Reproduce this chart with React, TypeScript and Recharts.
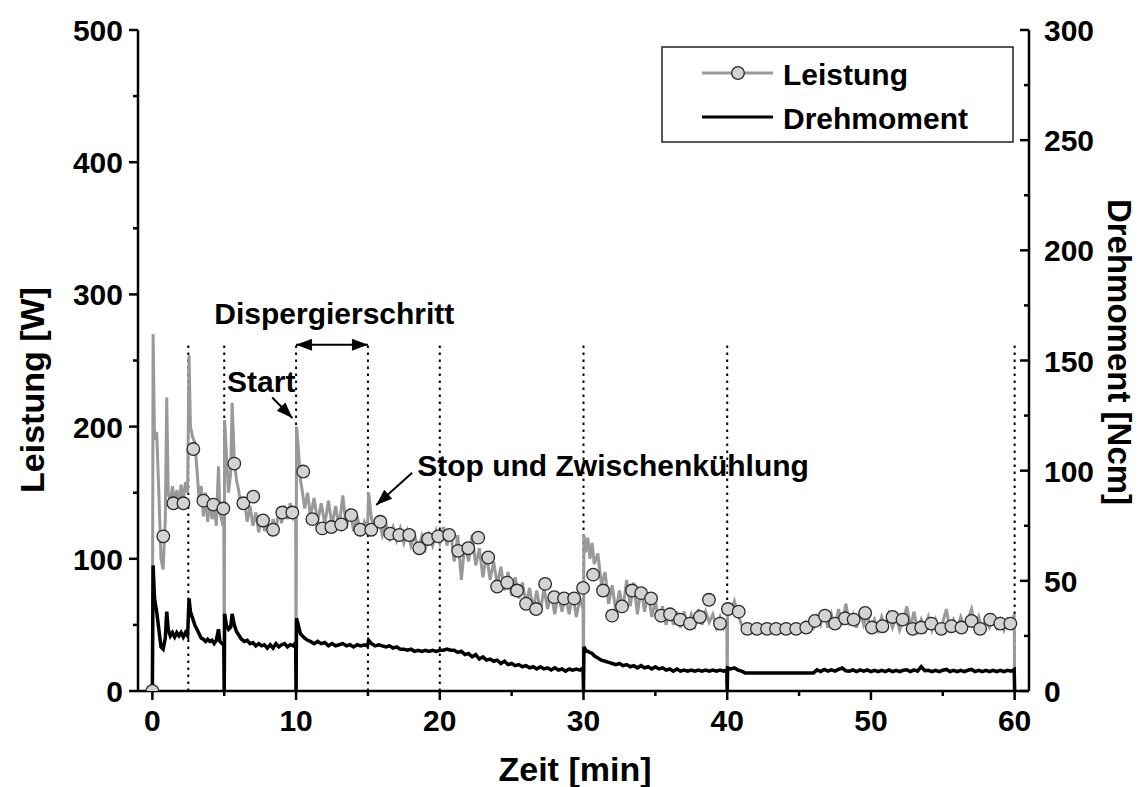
import { ComposedChart, Line, Scatter, XAxis, YAxis, ReferenceLine, ReferenceDot } from 'recharts'

// raw log, time in minutes (stops at 5, 10, 30, 40 and 60 min drop to zero)
const timeMin = [
  0, 0.05, 0.15, 0.3, 0.45, 0.6, 0.75, 0.9, 1.0, 1.1, 1.25, 1.4, 1.55, 1.7, 1.85, 2.0, 2.15, 2.3, 2.45, 2.55,
  2.65, 2.8, 2.95, 3.1, 3.25, 3.4, 3.55, 3.7, 3.85, 4.0, 4.15, 4.3, 4.45, 4.6, 4.7, 4.85, 4.97, 5.0,
  5.03, 5.15, 5.3, 5.45, 5.55, 5.7, 5.85, 6.0, 6.2, 6.4, 6.6, 6.8, 7.0, 7.2, 7.4, 7.6, 7.8, 8.0, 8.2, 8.4,
  8.6, 8.8, 9.0, 9.2, 9.4, 9.6, 9.8, 9.97, 10.0,
  10.03, 10.15, 10.3, 10.45, 10.6, 10.8, 11.0,
  11.25, 11.5, 11.75, 12.0, 12.25, 12.5, 12.75, 13.0, 13.25, 13.5, 13.75, 14.0, 14.25, 14.5, 14.75,
  14.97, 15.05,
  15.25, 15.5, 15.75, 16.0, 16.25, 16.5, 16.75, 17.0, 17.25, 17.5, 17.75, 18.0, 18.25, 18.5, 18.75,
  19.0, 19.25, 19.5, 19.75, 20.0, 20.25, 20.5, 20.75, 21.0, 21.25, 21.5, 21.75, 22.0, 22.25, 22.5,
  22.75, 23.0, 23.25, 23.5, 23.75, 24.0, 24.25, 24.5, 24.75, 25.0, 25.25, 25.5, 25.75, 26.0, 26.25,
  26.5, 26.75, 27.0, 27.25, 27.5, 27.75, 28.0, 28.25, 28.5, 28.75, 29.0, 29.25, 29.5, 29.75,
  29.97, 30.0,
  30.03, 30.15, 30.3, 30.45, 30.6, 30.75,
  31.0, 31.25, 31.5, 31.75, 32.0, 32.25, 32.5, 32.75, 33.0, 33.25, 33.5, 33.75, 34.0, 34.25, 34.5,
  34.75, 35.0, 35.25, 35.5, 35.75, 36.0, 36.25, 36.5, 36.75, 37.0, 37.25, 37.5, 37.75, 38.0, 38.25,
  38.5, 38.75, 39.0, 39.25, 39.5, 39.75,
  39.97, 40.0,
  40.03, 40.25, 40.5, 40.75, 41.0, 41.25, 46.0,
  46.25, 46.5, 46.75, 47.0, 47.25, 47.5, 47.75, 48.0, 48.25, 48.5, 48.75, 49.0, 49.25, 49.5, 49.75,
  50.0, 50.25, 50.5, 50.75, 51.0, 51.25, 51.5, 51.75,
  52.0, 52.25, 52.5, 52.75, 53.0, 53.25, 53.5, 53.75,
  54.0, 54.25, 54.5, 54.75, 55.0, 55.25, 55.5, 55.75,
  56.0, 56.25, 56.5, 56.75, 57.0, 57.25, 57.5, 57.75,
  58.0, 58.25, 58.5, 58.75, 59.0, 59.25, 59.5, 59.75,
  59.97, 60.0,
]

// Leistung [W]
const leistungW = [
  0, 270, 190, 196, 150, 100, 92, 130, 222, 150, 143, 155, 140, 152, 141, 156, 143, 158, 150, 254,
  200, 192, 188, 168, 145, 155, 132, 150, 128, 145, 130, 140, 125, 170, 135, 128, 132, 0,
  205, 180, 150, 165, 218, 175, 160, 152, 138, 145, 128, 140, 125, 135, 120, 132, 121, 128, 118, 130,
  122, 136, 127, 140, 130, 142, 132, 138, 0,
  200, 185, 160, 150, 138, 150, 132,
  146, 128, 142, 126, 144, 125, 140, 124, 148, 123, 138, 121, 132, 120, 128,
  122, 150,
  130, 122, 130, 118, 127, 116, 124, 114, 123, 112, 121, 110, 118, 106, 117,
  108, 118, 110, 121, 112, 124, 110, 122, 98, 118, 84, 112, 98, 118, 95,
  108, 86, 104, 84, 98, 80, 94, 76, 90, 72, 86, 70, 82, 66, 78,
  62, 76, 60, 78, 62, 74, 58, 74, 60, 72, 58, 74, 56, 70,
  62, 0,
  118, 105, 116, 100, 112, 96,
  104, 80, 90, 66, 80, 60, 76, 62, 84, 64, 82, 58, 78, 60, 74,
  56, 68, 52, 64, 50, 62, 50, 60, 48, 60, 48, 58, 50, 62, 50,
  60, 52, 58, 48, 56, 48,
  54, 0,
  66, 60, 68, 58, 50, 47, 47,
  56, 50, 60, 48, 58, 48, 62, 50, 66, 52, 58, 48, 60, 50, 58,
  46, 54, 46, 56, 48, 58, 48, 56,
  46, 54, 64, 48, 60, 46, 54, 46,
  56, 46, 54, 46, 52, 62, 46, 54,
  48, 56, 48, 54, 62, 48, 56, 46,
  54, 48, 56, 48, 54, 46, 54, 50,
  58, 0,
]

// Drehmoment [Ncm]
const drehmomentNcm = [
  0, 57, 42, 36, 28, 20, 19, 24, 36, 28, 25, 26.5, 24.5, 26.5, 25, 26.5, 24.5, 26.5, 25, 42,
  36, 33, 30, 28, 26, 24, 23.5, 22.5, 23.5, 22.5, 23, 21.5, 23, 28, 22.5, 21.5, 22, 0,
  35, 30, 28, 29, 35, 30, 27, 25.5, 23.5, 22.5, 23, 21.5, 22, 20.5, 21.5, 20.5, 21, 19.5, 21, 19.5,
  21.5, 20, 21, 21.5, 20, 21, 20.5, 22, 0,
  33, 30, 26, 25, 24, 23, 22.5,
  21.5, 22.5, 21.5, 22, 20.5, 21.5, 20.5, 21, 21.5, 20.5, 21, 20, 21, 20.5, 21,
  20.5, 23,
  21.5, 20.5, 21, 20.5, 20, 20.5, 19.5, 20, 19, 19, 18.5, 19, 18, 18.5, 18,
  18.5, 18, 18.5, 18, 18.5, 18.5, 19, 18.5, 18.5, 17.5, 18, 16.5, 17, 15.5, 16.5,
  14.5, 15.5, 14, 14.5, 13.5, 14, 12.5, 13.5, 12, 12.5, 11.5, 12, 11, 11.5, 10.5,
  11, 10, 11, 10, 10.5, 9.5, 10.5, 9.5, 10, 9, 10, 9.5, 10, 9.5,
  10.5, 0,
  20, 18.5, 18, 17.5, 17, 16,
  15, 14, 13.5, 13, 12.5, 12, 12.5, 11.5, 12, 11, 11.5, 10.5, 11.5, 10.5, 11,
  10, 11, 10, 10.5, 9.5, 10, 9, 10, 9, 9.5, 9, 9.5, 9, 9.5, 9,
  9.5, 9, 9.5, 9, 9.5, 9,
  9.5, 0,
  10.5, 10, 10.5, 9.5, 9, 8.2, 8.2,
  9.6, 8.8, 9.8, 9.0, 9.6, 9.0, 9.8, 10.4, 9.2, 9.0, 9.6, 8.8, 9.6, 9.0, 9.6,
  8.8, 9.4, 8.8, 9.4, 8.8, 9.6, 8.8, 9.4,
  8.8, 9.4, 9.6, 8.8, 9.6, 9.0, 11.0, 9.2,
  9.4, 8.8, 9.4, 8.8, 9.4, 9.8, 8.8, 9.4,
  8.8, 9.4, 8.8, 9.4, 9.8, 8.8, 9.4, 8.8,
  9.4, 8.8, 9.4, 8.8, 9.4, 8.8, 9.4, 9.0,
  9.8, 0,
]

// averaged Leistung, one symbol per sample
const markerTime = [
  0, 0.76, 1.46, 2.16, 2.85, 3.55, 4.24, 4.94, 5.7, 6.33,
  7.02, 7.7, 8.4, 9.04, 9.74, 10.5, 11.13, 11.82, 12.45, 13.14,
  13.84, 14.46, 15.23, 15.86, 16.55, 17.18, 17.87, 18.57, 19.19, 19.89,
  20.65, 21.28, 21.98, 22.67, 23.37, 23.99, 24.69, 25.38, 26.0, 26.7,
  27.33, 27.96, 28.65, 29.35, 29.97, 30.67, 31.36, 31.99, 32.68, 33.38,
  34.01, 34.7, 35.4, 36.02, 36.72, 37.41, 38.1, 38.73, 39.5, 40.05,
  40.8, 41.4, 42.07, 42.77, 43.4, 44.1, 44.8, 45.5, 46.1, 46.8,
  47.5, 48.2, 48.8, 49.6, 50.07, 50.8, 51.5, 52.2, 52.9, 53.5,
  54.2, 54.9, 55.6, 56.3, 57.0, 57.6, 58.3, 59.0, 59.7,
]
const markerW = [
  0, 117, 142, 142, 183, 144, 141, 138, 172, 142,
  147, 129, 122, 135, 135, 166, 130, 123, 124, 126,
  133, 122, 122, 128, 119, 118, 118, 108, 115, 117,
  118, 106, 108, 116, 101, 79, 82, 76, 66, 62,
  81, 71, 70, 70, 78, 88, 76, 57, 64, 76,
  74, 70, 57, 58, 54, 51, 56, 69, 51, 62,
  60, 47, 47, 47, 47, 47, 47, 48, 53, 57,
  51, 55, 54, 59, 48, 49, 56, 54, 47, 48,
  51, 47, 49, 48, 53, 47, 54, 51, 51,
]

// step boundaries (dotted guides) and their height on the W scale
const guideTimes = [2.5, 5, 10, 15, 20, 30, 40, 60]
const guideTop = 262

const timeTicks = [0, 5, 10, 15, 20, 25, 30, 35, 40, 45, 50, 55, 60]
const leistungTicks = [0, 50, 100, 150, 200, 250, 300, 350, 400, 450, 500]
const drehmomentTicks = [0, 25, 50, 75, 100, 125, 150, 175, 200, 225, 250, 275, 300]

const rows = timeMin.map((t, i) => ({ t, leistung: leistungW[i], drehmoment: drehmomentNcm[i] }))
const markers = markerTime.map((t, i) => ({ t, leistung: markerW[i] }))

const FONT = '"Liberation Sans", Arial, Helvetica, sans-serif'
const GRAY = '#999999'
const MARKER_FILL = '#d3d3d3'
const AXIS = { stroke: '#000', strokeWidth: 2.5 }

const textStyle = { fontFamily: FONT, fontWeight: 700, fill: '#000' }

function BottomTick({ x, y, payload }: any) {
  const major = payload.value % 10 === 0
  return (
    <g>
      <line x1={x} x2={x} y1={y} y2={y + (major ? 9 : 5)} stroke="#000" strokeWidth={2.5} />
      {major && (
        <text x={x} y={y + 40} textAnchor="middle" fontSize={30} style={textStyle}>
          {payload.value}
        </text>
      )}
    </g>
  )
}

function TopTick({ x, y, payload }: any) {
  const major = payload.value % 10 === 0
  return <line x1={x} x2={x} y1={y} y2={y + (major ? 10 : 5)} stroke="#000" strokeWidth={2.5} />
}

function LeftTick({ x, y, payload }: any) {
  const major = payload.value % 100 === 0
  return (
    <g>
      <line x1={x - (major ? 9 : 5)} x2={x} y1={y} y2={y} stroke="#000" strokeWidth={2.5} />
      {major && (
        <text x={x - 15} y={y + 11} textAnchor="end" fontSize={30} style={textStyle}>
          {payload.value}
        </text>
      )}
    </g>
  )
}

function RightTick({ x, y, payload }: any) {
  const major = payload.value % 50 === 0
  return (
    <g>
      <line x1={x - (major ? 9 : 5)} x2={x} y1={y} y2={y} stroke="#000" strokeWidth={2.5} />
      {major && (
        <text x={x + 15} y={y + 11} textAnchor="start" fontSize={30} style={textStyle}>
          {payload.value}
        </text>
      )}
    </g>
  )
}

function MarkerDot({ cx, cy }: any) {
  return <circle cx={cx} cy={cy} r={6.3} fill={MARKER_FILL} stroke="#2a2a2a" strokeWidth={1.3} />
}

function headPoints(x: number, y: number, a: number) {
  const len = 16
  const half = 6
  const bx = x - len * Math.cos(a)
  const by = y - len * Math.sin(a)
  return `${x},${y} ${bx + half * Math.sin(a)},${by - half * Math.cos(a)} ${bx - half * Math.sin(a)},${by + half * Math.cos(a)}`
}

function Arrow({ x1, y1, x2, y2, both }: any) {
  const a = Math.atan2(y2 - y1, x2 - x1)
  return (
    <g>
      <line x1={x1} y1={y1} x2={x2} y2={y2} stroke="#000" strokeWidth={2} />
      <polygon points={headPoints(x2, y2, a)} fill="#000" />
      {both && <polygon points={headPoints(x1, y1, a + Math.PI)} fill="#000" />}
    </g>
  )
}

function note(text: string, anchor: 'start' | 'middle') {
  return ({ cx, cy }: any) => (
    <text x={cx} y={cy} textAnchor={anchor} fontSize={30} style={textStyle}>
      {text}
    </text>
  )
}

export default function App() {
  return (
    <div style={{ position: 'absolute', left: 0, top: 0, width: 1143, height: 787, background: '#fff' }}>
      <ComposedChart width={1143} height={787} data={rows} margin={{ top: 30, right: 0, bottom: 0, left: 0 }}>
        <XAxis
          xAxisId="t"
          dataKey="t"
          type="number"
          domain={[-1, 61]}
          allowDataOverflow
          ticks={timeTicks}
          interval={0}
          tickSize={0}
          tickMargin={0}
          tickLine={false}
          axisLine={AXIS}
          tick={<BottomTick />}
          height={96}
        />
        <XAxis
          xAxisId="top"
          orientation="top"
          type="number"
          domain={[-1, 61]}
          allowDataOverflow
          ticks={timeTicks}
          interval={0}
          tickSize={0}
          tickMargin={0}
          tickLine={false}
          axisLine={AXIS}
          tick={<TopTick />}
          height={0}
        />
        <YAxis
          yAxisId="w"
          type="number"
          domain={[0, 500]}
          allowDataOverflow
          ticks={leistungTicks}
          interval={0}
          tickSize={0}
          tickMargin={0}
          tickLine={false}
          axisLine={AXIS}
          tick={<LeftTick />}
          width={138}
        />
        <YAxis
          yAxisId="ncm"
          orientation="right"
          type="number"
          domain={[0, 300]}
          allowDataOverflow
          ticks={drehmomentTicks}
          interval={0}
          tickSize={0}
          tickMargin={0}
          tickLine={false}
          axisLine={AXIS}
          tick={<RightTick />}
          width={114}
        />

        {guideTimes.map((g) => (
          <ReferenceLine
            key={g}
            xAxisId="t"
            yAxisId="w"
            segment={[{ x: g, y: 0 }, { x: g, y: guideTop }]}
            stroke="#000"
            strokeWidth={2}
            strokeDasharray="2.5 4.5"
          />
        ))}

        <Line
          xAxisId="t"
          yAxisId="w"
          dataKey="leistung"
          type="linear"
          stroke={GRAY}
          strokeWidth={3}
          dot={false}
          isAnimationActive={false}
        />
        <Line
          xAxisId="t"
          yAxisId="ncm"
          dataKey="drehmoment"
          type="linear"
          stroke="#000"
          strokeWidth={3.5}
          dot={false}
          isAnimationActive={false}
        />
        <Scatter
          xAxisId="t"
          yAxisId="w"
          data={markers}
          dataKey="leistung"
          shape={<MarkerDot />}
          isAnimationActive={false}
        />

        {/* Dispergierschritt bracket between 10 and 15 min */}
        <ReferenceLine
          xAxisId="t"
          yAxisId="w"
          segment={[{ x: 10, y: 262 }, { x: 15, y: 262 }]}
          shape={(p: any) => <Arrow {...p} both />}
        />
        <ReferenceLine
          xAxisId="t"
          yAxisId="w"
          segment={[{ x: 8.34, y: 222 }, { x: 9.74, y: 206.5 }]}
          shape={(p: any) => <Arrow {...p} />}
        />
        <ReferenceLine
          xAxisId="t"
          yAxisId="w"
          segment={[{ x: 18.08, y: 165 }, { x: 15.58, y: 140.7 }]}
          shape={(p: any) => <Arrow {...p} />}
        />
        <ReferenceDot xAxisId="t" yAxisId="w" x={12.66} y={277.6} r={0} shape={note('Dispergierschritt', 'middle')} />
        <ReferenceDot xAxisId="t" yAxisId="w" x={7.58} y={226} r={0} shape={note('Start', 'middle')} />
        <ReferenceDot xAxisId="t" yAxisId="w" x={18.43} y={162.6} r={0} shape={note('Stop und Zwischenkühlung', 'start')} />
      </ComposedChart>

      <svg width={1143} height={787} style={{ position: 'absolute', left: 0, top: 0, pointerEvents: 'none' }}>
        <text transform="translate(44,390) rotate(-90)" textAnchor="middle" fontSize={34} style={textStyle}>
          Leistung [W]
        </text>
        <text transform="translate(1108,352) rotate(90)" textAnchor="middle" fontSize={33} style={textStyle}>
          Drehmoment [Ncm]
        </text>
        <text x={575} y={781} textAnchor="middle" fontSize={34} style={textStyle}>
          Zeit [min]
        </text>

        <rect x={662} y={47} width={351} height={95} fill="#fff" stroke="#222" strokeWidth={1.5} />
        <line x1={702} x2={773} y1={73} y2={73} stroke={GRAY} strokeWidth={3} />
        <circle cx={738} cy={73} r={6.3} fill={MARKER_FILL} stroke="#2a2a2a" strokeWidth={1.3} />
        <text x={783} y={85} fontSize={30} style={textStyle}>
          Leistung
        </text>
        <line x1={702} x2={773} y1={117} y2={117} stroke="#000" strokeWidth={3} />
        <text x={783} y={129} fontSize={30} style={textStyle}>
          Drehmoment
        </text>
      </svg>
    </div>
  )
}
